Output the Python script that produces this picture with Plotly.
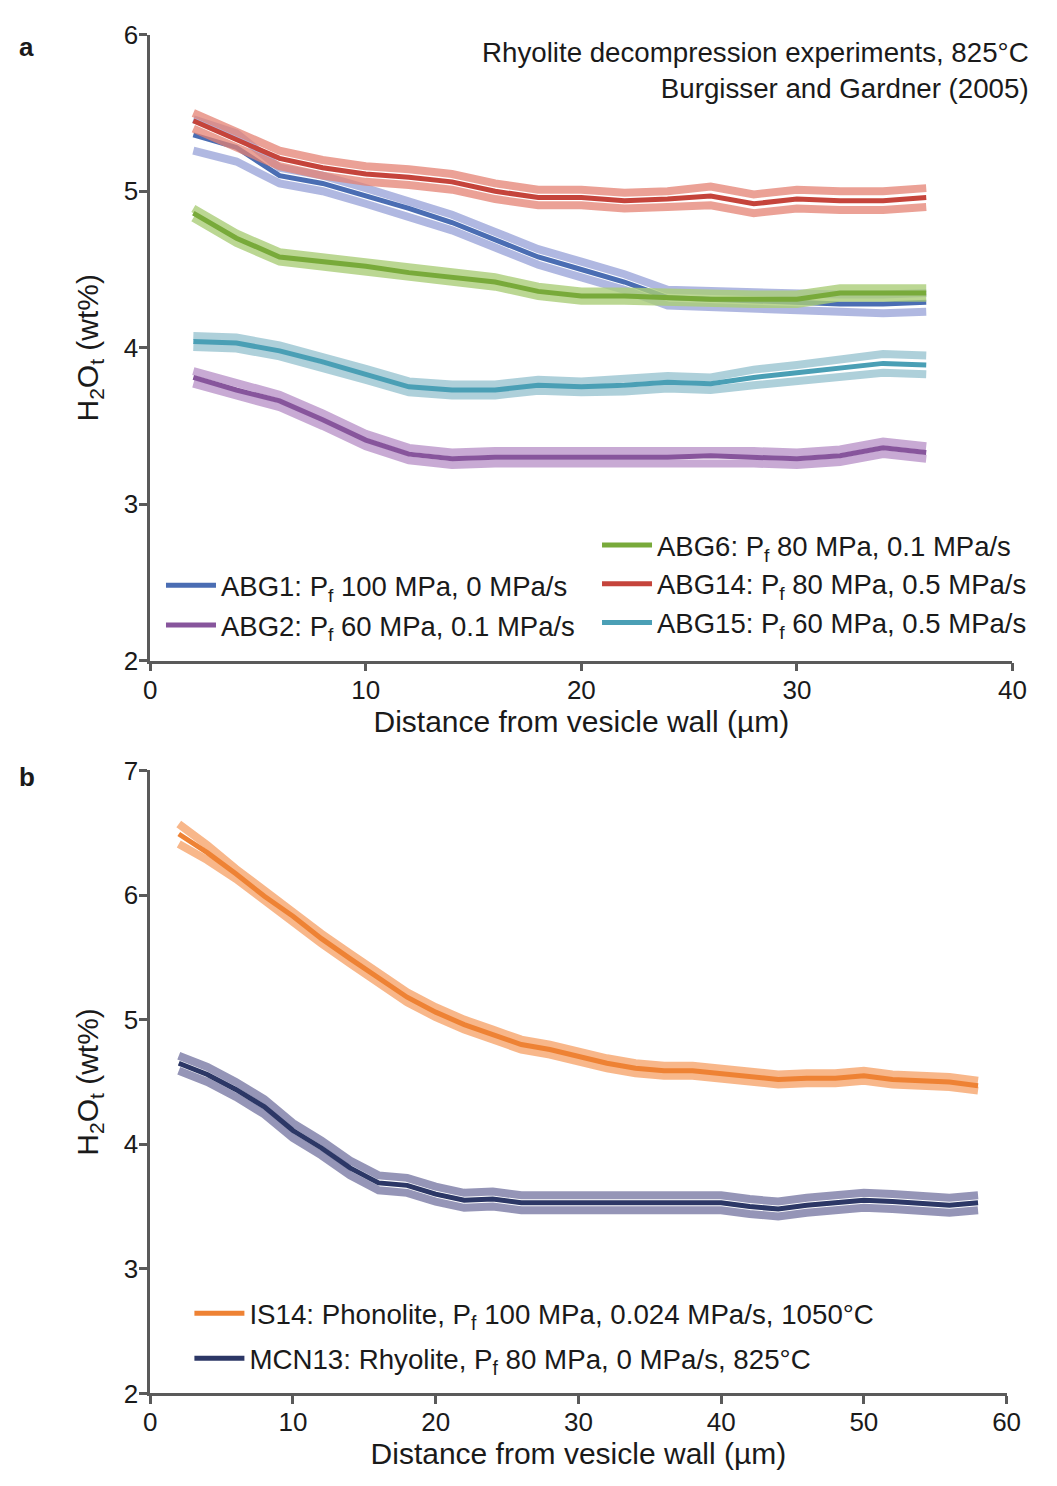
import plotly.graph_objects as go

# ---------------- data: panel a ----------------
x_a = [2, 4, 6, 8, 10, 12, 14, 16, 18, 20, 22, 24, 26, 28, 30, 32, 34, 36]
abg1 = [5.36, 5.28, 5.10, 5.05, 4.97, 4.89, 4.80, 4.69, 4.58, 4.50, 4.42, 4.32, 4.31, 4.30, 4.29, 4.28, 4.28, 4.29]
abg1_err = [0.10, 0.09, 0.05, 0.05, 0.05, 0.05, 0.05, 0.05, 0.05, 0.05, 0.05, 0.05, 0.05, 0.05, 0.06, 0.06, 0.06, 0.06]
abg2 = [3.81, 3.73, 3.66, 3.54, 3.41, 3.32, 3.29, 3.30, 3.30, 3.30, 3.30, 3.30, 3.31, 3.30, 3.29, 3.31, 3.36, 3.33]
abg2_err = [0.04] * 18
abg6 = [4.86, 4.70, 4.58, 4.55, 4.52, 4.48, 4.45, 4.42, 4.36, 4.33, 4.33, 4.32, 4.31, 4.31, 4.31, 4.35, 4.35, 4.35]
abg6_err = [0.03] * 18
abg14 = [5.45, 5.33, 5.21, 5.15, 5.11, 5.09, 5.06, 5.00, 4.96, 4.96, 4.94, 4.95, 4.97, 4.92, 4.95, 4.94, 4.94, 4.96]
abg14_err = [0.05, 0.05, 0.05, 0.05, 0.05, 0.05, 0.05, 0.05, 0.05, 0.05, 0.05, 0.05, 0.06, 0.06, 0.06, 0.06, 0.06, 0.06]
abg15 = [4.04, 4.03, 3.98, 3.91, 3.83, 3.75, 3.73, 3.73, 3.76, 3.75, 3.76, 3.78, 3.77, 3.81, 3.84, 3.87, 3.90, 3.89]
abg15_err = [0.035, 0.035, 0.035, 0.035, 0.035, 0.035, 0.035, 0.035, 0.035, 0.035, 0.04, 0.04, 0.04, 0.05, 0.05, 0.06, 0.06, 0.06]

# ---------------- data: panel b ----------------
x_b = [2, 4, 6, 8, 10, 12, 14, 16, 18, 20, 22, 24, 26, 28, 30, 32, 34, 36, 38, 40,
       42, 44, 46, 48, 50, 52, 54, 56, 58]
is14 = [6.49, 6.34, 6.17, 5.99, 5.83, 5.65, 5.49, 5.33, 5.18, 5.06, 4.96, 4.88, 4.80, 4.76, 4.70,
        4.65, 4.61, 4.59, 4.59, 4.57, 4.55, 4.52, 4.53, 4.53, 4.55, 4.52, 4.51, 4.50, 4.47]
is14_err = [0.08, 0.06] + [0.04] * 27
mcn13 = [4.65, 4.56, 4.44, 4.30, 4.11, 3.97, 3.81, 3.69, 3.67, 3.60, 3.55, 3.56, 3.53, 3.53, 3.53,
         3.52, 3.52, 3.52, 3.52, 3.53, 3.50, 3.48, 3.51, 3.53, 3.55, 3.54, 3.53, 3.51, 3.53]
mcn13_err = [0.06] * 29

names_a = ["ABG1: P<sub>f</sub> 100 MPa, 0 MPa/s",
           "ABG2: P<sub>f</sub> 60 MPa, 0.1 MPa/s",
           "ABG6: P<sub>f</sub> 80 MPa, 0.1 MPa/s",
           "ABG14: P<sub>f</sub> 80 MPa, 0.5 MPa/s",
           "ABG15: P<sub>f</sub> 60 MPa, 0.5 MPa/s"]
names_b = ["IS14: Phonolite, P<sub>f</sub> 100 MPa, 0.024 MPa/s, 1050°C",
           "MCN13: Rhyolite, P<sub>f</sub> 80 MPa, 0 MPa/s, 825°C"]

# page is 1057x1486; the default 8px body margin surrounds the figure
OFF = 8
W, H = 1057 - 2 * OFF, 1486 - 2 * OFF
FONT = "Liberation Sans, Arial, sans-serif"
TXT = "#1a1a1a"
AX = "#5a5a5a"

fig = go.Figure()


def add_series(x, y, err, name, dark, light, xa, ya, legend, rank):
    up = [v + e for v, e in zip(y, err)]
    lo = [v - e for v, e in zip(y, err)]
    for band in (up, lo):
        fig.add_trace(go.Scatter(x=x, y=band, mode="lines", xaxis=xa, yaxis=ya,
                                 line=dict(color=light, width=8), showlegend=False,
                                 hoverinfo="skip"))
    fig.add_trace(go.Scatter(x=x, y=y, mode="lines", xaxis=xa, yaxis=ya, name=name,
                             line=dict(color=dark, width=5), legend=legend, legendrank=rank,
                             legendgroup=name))


series_a = [
    (abg1, abg1_err, names_a[0], "#4A6DB3", "rgba(150,160,215,0.75)", "legend", 1),
    (abg14, abg14_err, names_a[3], "#C5443B", "rgba(228,130,115,0.75)", "legend2", 2),
    (abg6, abg6_err, names_a[2], "#78AA3A", "rgba(170,205,120,0.8)", "legend2", 1),
    (abg15, abg15_err, names_a[4], "#4A9FB5", "rgba(160,200,212,0.85)", "legend2", 3),
    (abg2, abg2_err, names_a[1], "#87559C", "rgba(190,155,205,0.85)", "legend", 2),
]
for y, e, n, d, l, lg, rk in series_a:
    add_series(x_a, y, e, n, d, l, "x", "y", lg, rk)

add_series(x_b, is14, is14_err, names_b[0], "#EE8234", "rgba(247,175,125,0.9)", "x2", "y2", "legend3", 1)
add_series(x_b, mcn13, mcn13_err, names_b[1], "#2C3766", "rgba(130,130,170,0.85)", "x2", "y2", "legend3", 2)


def px_x(p):
    return (p - OFF) / W


def px_y(p):
    return 1 - (p - OFF) / H


axis_common = dict(showgrid=False, zeroline=False, showline=True, linecolor=AX, linewidth=2.5,
                   ticks="outside", ticklen=8, tickwidth=2.5, tickcolor=AX, ticklabelstandoff=-4,
                   tickfont=dict(family=FONT, size=26, color=TXT))
title_font = dict(size=30, family=FONT, color=TXT)
leg_font = dict(size=27.5, family=FONT, color=TXT)

fig.update_layout(
    width=W, height=H, margin=dict(l=0, r=0, t=0, b=0),
    paper_bgcolor="white", plot_bgcolor="white",
    font=dict(family=FONT, color=TXT),
    xaxis=dict(domain=[px_x(146), px_x(1026)], range=[0, 40], tickvals=[0, 10, 20, 30, 40],
               anchor="y", title=dict(text="Distance from vesicle wall (µm)", font=title_font, standoff=5),
               **axis_common),
    yaxis=dict(domain=[px_y(659), px_y(20)], range=[2, 6], tickvals=[2, 3, 4, 5, 6],
               anchor="x", title=dict(text="H<sub>2</sub>O<sub>t</sub> (wt%)", font=title_font, standoff=17),
               **axis_common),
    xaxis2=dict(domain=[px_x(146), px_x(1020)], range=[0, 60], tickvals=[0, 10, 20, 30, 40, 50, 60],
                anchor="y2", title=dict(text="Distance from vesicle wall (µm)", font=title_font, standoff=5),
                **axis_common),
    yaxis2=dict(domain=[px_y(1407), px_y(771)], range=[2, 7], tickvals=[2, 3, 4, 5, 6, 7],
                anchor="x2", title=dict(text="H<sub>2</sub>O<sub>t</sub> (wt%)", font=title_font, standoff=17),
                **axis_common),
    legend=dict(x=px_x(157), y=px_y(557), xanchor="left", yanchor="top", bgcolor="rgba(0,0,0,0)",
                font=leg_font, itemwidth=50, tracegroupgap=1),
    legend2=dict(x=px_x(602), y=px_y(516), xanchor="left", yanchor="top", bgcolor="rgba(0,0,0,0)",
                 font=leg_font, itemwidth=50, tracegroupgap=0),
    legend3=dict(x=px_x(186), y=px_y(1300), xanchor="left", yanchor="top", bgcolor="rgba(0,0,0,0)",
                 font=dict(size=27.7, family=FONT, color=TXT), itemwidth=50, tracegroupgap=6),
    annotations=[
        dict(text="Rhyolite decompression experiments, 825°C<br>Burgisser and Gardner (2005)",
             x=px_x(1045), y=px_y(20), xref="paper", yref="paper", xanchor="right", yanchor="top",
             align="right", showarrow=False, font=dict(size=27.7, family=FONT, color=TXT)),
        dict(text="<b>a</b>", x=px_x(10), y=px_y(33), xref="paper", yref="paper",
             xanchor="left", yanchor="middle", showarrow=False, font=dict(size=26, family=FONT, color=TXT)),
        dict(text="<b>b</b>", x=px_x(10), y=px_y(778), xref="paper", yref="paper",
             xanchor="left", yanchor="middle", showarrow=False, font=dict(size=26, family=FONT, color=TXT)),
    ],
)

fig.write_html("out.html", config={"displayModeBar": False})
